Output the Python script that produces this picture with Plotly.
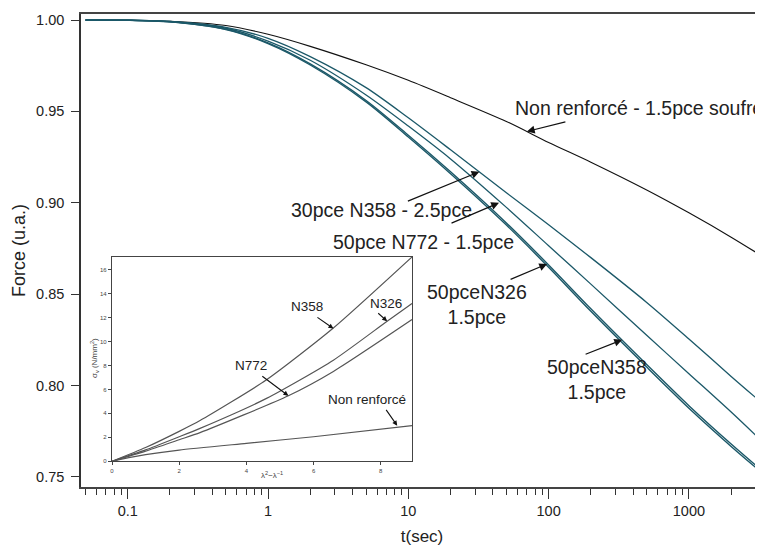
import numpy as np
import plotly.graph_objects as go

# ---------------- data ----------------
# Main chart: normalised relaxation force vs time (log t)
t_grid = [0.05, 0.1, 0.2, 0.5, 1, 2, 5, 10, 20, 50, 100, 200, 500, 1000, 2000, 3370]

f_nonrenf = [1.0000, 0.9999, 0.9993, 0.9970, 0.9922, 0.9856, 0.9755, 0.9670, 0.9575, 0.9445,
             0.9330, 0.9222, 0.9070, 0.8945, 0.8812, 0.8705]
f_30n358 = [1.0000, 0.9999, 0.9992, 0.9960, 0.9900, 0.9800, 0.9630, 0.9465, 0.9290, 0.9055,
            0.8880, 0.8700, 0.8455, 0.8255, 0.8050, 0.7900]
f_50n772 = [1.0000, 0.9999, 0.9992, 0.9955, 0.9885, 0.9780, 0.9590, 0.9420, 0.9240, 0.8975,
            0.8765, 0.8555, 0.8275, 0.8065, 0.7855, 0.7690]
f_50n326 = [1.0000, 0.9999, 0.9991, 0.9950, 0.9875, 0.9760, 0.9560, 0.9370, 0.9170, 0.8890,
            0.8660, 0.8420, 0.8115, 0.7890, 0.7680, 0.7530]
f_50n358 = [1.0000, 0.9999, 0.9990, 0.9948, 0.9871, 0.9754, 0.9552, 0.9360, 0.9159, 0.8878,
            0.8647, 0.8406, 0.8101, 0.7876, 0.7667, 0.7518]

x_ticks = [0.1, 1, 10, 100, 1000]
x_ticktext = ["0.1", "1", "10", "100", "1000"]
y_ticks = [0.75, 0.80, 0.85, 0.90, 0.95, 1.00]
y_ticktext = ["0.75", "0.80", "0.85", "0.90", "0.95", "1.00"]

# Inset: stress vs lambda^2 - lambda^-1
ix_n358 = [0, 1, 2, 2.62, 4.6, 6.58, 8.93]
iy_n358 = [0, 1.15, 2.5, 3.4, 6.8, 11.1, 17.05]
ix_n326 = [0, 1, 2, 2.62, 4.6, 6.59, 8.19, 8.93]
iy_n326 = [0, 0.95, 2.05, 2.75, 5.25, 8.44, 11.69, 13.17]
ix_n772 = [0, 1, 2, 2.62, 5.25, 6.59, 8.93]
iy_n772 = [0, 0.85, 1.8, 2.39, 5.47, 7.5, 11.83]
ix_nr = [0, 0.5, 1, 2, 4, 6, 8.93]
iy_nr = [0, 0.3, 0.55, 0.94, 1.5, 2.05, 2.97]
inset_xticks = [0, 2, 4, 6, 8]
inset_yticks = [0, 2, 4, 6, 8, 10, 12, 14, 16]

# ---------------- layout geometry ----------------
OFF = 8                      # page body margin
W, H = 755, 540
ML, MR, MT, MB = 73, 0, 6, 61
PW, PH = W - ML - MR, H - MT - MB

def px(xp):                  # window pixel -> paper x
    return (xp - OFF - ML) / PW

def py(yp):                  # window pixel -> paper y
    return (H - MB - (yp - OFF)) / PH

TEAL = "#1b5868"
FONT = "Liberation Sans, Arial, Helvetica, sans-serif"

fig = go.Figure()

def main_line(t, f, color, width):
    fig.add_trace(go.Scatter(x=t, y=f, mode="lines", xaxis="x", yaxis="y",
                             line=dict(color=color, width=width, shape="spline", smoothing=0.8),
                             showlegend=False, hoverinfo="skip"))

main_line(t_grid, f_nonrenf, "#111111", 1.1)
main_line(t_grid, f_30n358, TEAL, 1.3)
main_line(t_grid, f_50n772, TEAL, 1.3)
main_line(t_grid, f_50n326, TEAL, 1.4)
main_line(t_grid, f_50n358, TEAL, 1.4)

def inset_line(x, y):
    fig.add_trace(go.Scatter(x=x, y=y, mode="lines", xaxis="x2", yaxis="y2",
                             line=dict(color="#555555", width=1.2, shape="spline", smoothing=0.6),
                             showlegend=False, hoverinfo="skip"))

inset_line(ix_n358, iy_n358)
inset_line(ix_n326, iy_n326)
inset_line(ix_n772, iy_n772)
inset_line(ix_nr, iy_nr)

minor_vals = [m * 10.0 ** d for d in range(-2, 4) for m in range(2, 10)]

fig.update_layout(
    width=W, height=H,
    margin=dict(l=ML, r=MR, t=MT, b=MB, autoexpand=False),
    paper_bgcolor="white", plot_bgcolor="white",
    font=dict(family=FONT, color="#222222"),
    xaxis=dict(type="log", range=[-1.333, 3.528], showgrid=False, zeroline=False,
               automargin=False,
               showline=True, linecolor="#444444", linewidth=1.5, mirror=True,
               ticks="outside", ticklen=10, tickwidth=1.2, tickcolor="#333333",
               tickvals=x_ticks, ticktext=x_ticktext, tickfont=dict(size=14.5),
               minor=dict(tickvals=minor_vals, ticks="outside", ticklen=6,
                          tickwidth=1.1, tickcolor="#333333"),
               title=dict(text="t(sec)", font=dict(size=17), standoff=12)),
    yaxis=dict(range=[0.7445, 1.0033], showgrid=False, zeroline=False,
               automargin=False,
               showline=True, linecolor="#333333", linewidth=1.5, mirror=False,
               ticks="outside", ticklen=8, tickwidth=1.2, tickcolor="#333333",
               tickvals=y_ticks, ticktext=y_ticktext, tickfont=dict(size=14.5),
               ticklabelstandoff=4,
               title=dict(text="Force (u.a.)", font=dict(size=18), standoff=6)),
    xaxis2=dict(domain=[px(112), px(412)], anchor="y2", range=[0, 8.93],
                automargin=False,
                showgrid=False, zeroline=False, showline=True, mirror=True,
                linecolor="#444444", linewidth=1.2, ticks="outside", ticklen=3,
                tickcolor="#444444", tickvals=inset_xticks,
                tickfont=dict(size=6, color="#444444")),
    yaxis2=dict(domain=[py(461.3), py(257)], anchor="x2", range=[0, 17.05],
                automargin=False,
                showgrid=False, zeroline=False, showline=True, mirror=True,
                linecolor="#444444", linewidth=1.2, ticks="outside", ticklen=3,
                tickcolor="#444444", tickvals=inset_yticks,
                tickfont=dict(size=6, color="#444444")),
)

# ---------------- annotations ----------------
LABEL = 19.5

def text_px(xp, yp, txt, size=LABEL, xanchor="center"):
    fig.add_annotation(x=px(xp), y=py(yp), xref="paper", yref="paper", text=txt,
                       showarrow=False, xanchor=xanchor, yanchor="middle",
                       font=dict(size=size, color="#222222"))

def arrow_main(t, f, dx, dy):
    fig.add_annotation(x=np.log10(t), y=f, xref="x", yref="y", text="",
                       showarrow=True, ax=dx, ay=dy, arrowhead=2, arrowsize=1.3,
                       arrowwidth=1.2, arrowcolor="#111111", standoff=0, startstandoff=0)

text_px(381, 210, "30pce N358 - 2.5pce")
text_px(423, 242, "50pce N772 - 1.5pce")
text_px(477, 304, "50pceN326<br>1.5pce")
text_px(597, 379, "50pceN358<br>1.5pce")
text_px(513, 108, "Non renforcé - 1.5pce soufre", xanchor="left")

arrow_main(32.1, 0.917, -73, 30)
arrow_main(44.3, 0.900, -49, 21)
arrow_main(97.5, 0.8665, -38, 16)
arrow_main(334, 0.825, -38, 15)
arrow_main(70, 0.939, 40, -10)

def text_in(x, y, txt, size=13.5):
    fig.add_annotation(x=x, y=y, xref="x2", yref="y2", text=txt, showarrow=False,
                       xanchor="center", yanchor="middle",
                       font=dict(size=size, color="#222222"))

def arrow_in(x, y, tx, ty):
    fig.add_annotation(x=x, y=y, xref="x2", yref="y2", axref="x2", ayref="y2",
                       ax=tx, ay=ty, text="", showarrow=True, arrowhead=2,
                       arrowsize=0.9, arrowwidth=1.1, arrowcolor="#111111",
                       standoff=0, startstandoff=0)

text_in(5.79, 12.9, "N358")
arrow_in(6.59, 11.08, 6.07, 12.1)
text_in(8.15, 13.17, "N326")
arrow_in(8.19, 11.69, 7.88, 12.47)
text_in(4.13, 7.97, "N772")
arrow_in(5.25, 5.47, 4.43, 7.19)
text_in(7.58, 5.19, "Non renforcé")
arrow_in(8.49, 2.97, 8.13, 4.42)

# inset axis titles
fig.add_annotation(x=px(272), y=py(475), xref="paper", yref="paper",
                   text="λ<sup>2</sup>−λ<sup>−1</sup>", showarrow=False,
                   xanchor="center", yanchor="middle",
                   font=dict(size=8, color="#444444"))
fig.add_annotation(x=px(94), y=py(358), xref="paper", yref="paper",
                   text="σ<sub>v</sub> (N/mm<sup>2</sup>)", showarrow=False, textangle=-90,
                   xanchor="center", yanchor="middle",
                   font=dict(size=8, color="#444444"))

fig.write_html("out.html")
